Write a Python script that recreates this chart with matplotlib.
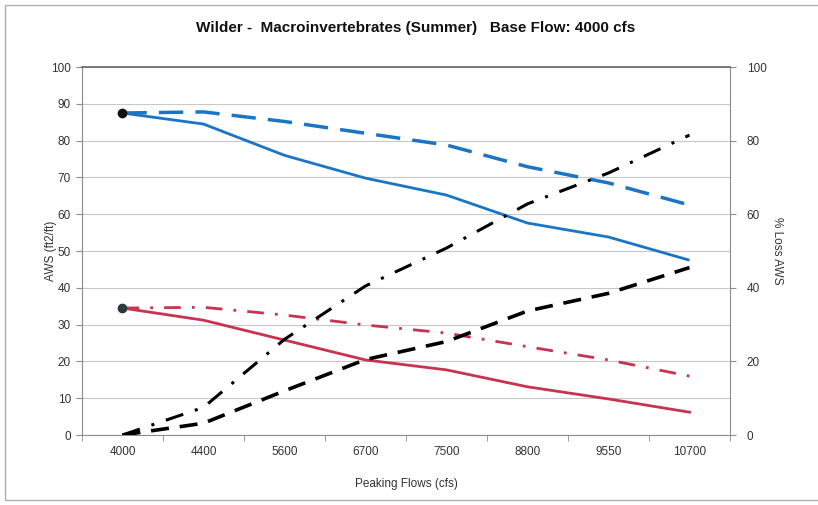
import numpy as np
import matplotlib
matplotlib.use("Agg")
import matplotlib.pyplot as plt
from matplotlib.patches import Rectangle

plt.rcParams['font.family'] = ['Liberation Sans', 'DejaVu Sans']

# Data
flows = ['4000', '4400', '5600', '6700', '7500', '8800', '9550', '10700']
aws_blue_solid = [87.5, 84.5, 76.0, 69.8, 65.2, 57.6, 53.8, 47.5]
aws_blue_dash = [87.5, 87.8, 85.2, 82.0, 78.8, 72.9, 68.5, 62.5]
aws_red_solid = [34.5, 31.2, 25.8, 20.4, 17.7, 13.1, 9.8, 6.2]
aws_red_dashdot = [34.5, 34.7, 32.6, 29.9, 27.7, 24.0, 20.4, 16.0]
loss_dashdot = [0.0, 7.5, 26.0, 40.5, 50.8, 62.8, 71.2, 81.5]
loss_dash = [0.0, 3.2, 12.0, 20.5, 25.4, 33.7, 38.5, 45.5]

blue = '#1b75c6'
red = '#c8334f'
grid_c = '#c8c8c8'
spine_c = '#8c8c8c'

fig = plt.figure(figsize=(8.18, 5.05), dpi=100)
fig.patches.append(Rectangle((0.006, 0.01), 1.2, 0.98, transform=fig.transFigure,
                             fill=False, edgecolor='#b0b0b0', linewidth=1.0))

ax = fig.add_axes([0.1002, 0.1386, 0.7922, 0.7287])
x = np.arange(len(flows))

ax.plot(x, aws_blue_solid, color=blue, lw=2.0, solid_capstyle='butt', zorder=3)
ax.plot(x, aws_blue_dash, color=blue, lw=2.5, dashes=(7, 3.5), zorder=3)
ax.plot(x, aws_red_solid, color=red, lw=2.0, zorder=3)
ax.plot(x, aws_red_dashdot, color=red, lw=2.0, dashes=(6, 4, 1, 4), zorder=3)
ax.plot(x[:1], aws_blue_solid[:1], 'o', color='#111111', ms=6, zorder=5)
ax.plot(x[:1], aws_red_solid[:1], 'o', color='#2a3a3a', ms=6, zorder=5)

ax.set_xlim(-0.5, len(flows) - 0.5)
ax.set_ylim(0, 100)
ax.set_yticks(np.arange(0, 101, 10))
ax.set_xticks(x)
ax.set_xticklabels(flows)
ax.set_xticks(np.arange(-0.5, len(flows), 1.0), minor=True)
ax.tick_params(axis='x', which='major', length=0, pad=8, labelsize=8.5, colors='#333333')
ax.tick_params(axis='x', which='minor', length=4, color=spine_c, direction='out')
ax.tick_params(axis='y', length=4, color=spine_c, labelsize=8.5, labelcolor='#333333', pad=4)
ax.grid(axis='y', color=grid_c, lw=0.8)
ax.set_axisbelow(True)
for s in ['left', 'bottom', 'right']:
    ax.spines[s].set_color(spine_c)
ax.spines['top'].set_color('#666666')
ax.spines['top'].set_linewidth(1.2)

ax.set_ylabel('AWS (ft2/ft)', fontsize=8.5, color='#333333', labelpad=-4)
ax.set_xlabel('Peaking Flows (cfs)', fontsize=8.5, color='#333333', labelpad=14)

ax2 = ax.twinx()
ax2.set_ylim(0, 100)
ax2.set_yticks(np.arange(0, 101, 20))
ax2.plot(x, loss_dashdot, color='black', lw=2.2, dashes=(6, 4, 1, 4), zorder=3)
ax2.plot(x, loss_dash, color='black', lw=2.6, dashes=(5, 3), zorder=3)
ax2.tick_params(axis='y', length=4, color=spine_c, labelsize=8.5, labelcolor='#333333', pad=8)
for s in ax2.spines.values():
    s.set_visible(False)
ax2.set_ylabel('% Loss AWS', fontsize=8.5, color='#333333', rotation=270, labelpad=12)

fig.suptitle('Wilder -  Macroinvertebrates (Summer)   Base Flow: 4000 cfs',
             x=0.508, y=0.958, fontsize=11, fontweight='bold', color='#111111')

fig.savefig('out.png', dpi=100)
